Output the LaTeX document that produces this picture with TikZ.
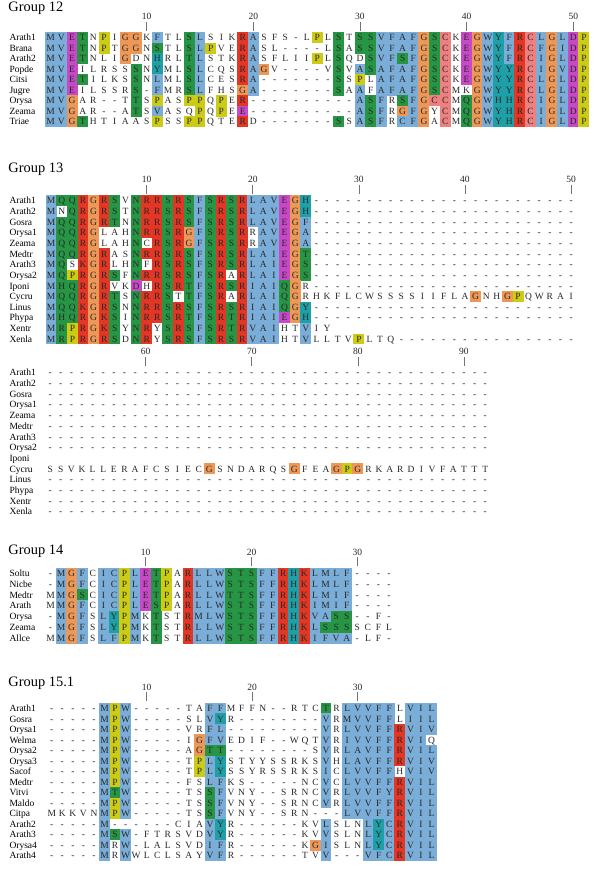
\documentclass[tikz,border=0pt]{standalone}
\usepackage{fontspec}
\setmainfont{Liberation Serif}
\newcount\alk
\definecolor{clb}{RGB}{122,174,216}
\definecolor{clr}{RGB}{228,54,36}
\definecolor{clg}{RGB}{38,150,68}
\definecolor{clm}{RGB}{200,72,200}
\definecolor{clo}{RGB}{238,152,88}
\definecolor{cly}{RGB}{204,204,20}
\definecolor{clc}{RGB}{30,160,168}
\definecolor{clp}{RGB}{238,128,128}
\definecolor{txt}{RGB}{40,40,40}
\tikzset{
  seqlet/.style={font=\fontsize{9.5}{10}\selectfont, inner sep=0pt, anchor=base, text=txt},
  seqname/.style={font=\fontsize{9.5}{10}\selectfont, inner sep=0pt, anchor=base west, text=black},
  ticklab/.style={font=\fontsize{9.5}{10}\selectfont, inner sep=0pt, anchor=base, text=txt},
  tickln/.style={draw=black!55, line width=0.6pt},
  grphead/.style={font=\fontsize{14.4}{15}\selectfont, inner sep=0pt, anchor=base west, text=black},
}
\newcommand\gxo{50}\newcommand\gcw{10.6}\newcommand\gyo{0}\newcommand\grh{10.6}
\newcommand\setgrp[4]{\renewcommand\gxo{#1}\renewcommand\gcw{#2}\renewcommand\gyo{#3}\renewcommand\grh{#4}}
\newcommand\alcell[2]{\fill[cl#1] ({\gxo+(\the\alk-1.5)*\gcw-0.15},{-(\gyo+(#2-1.5)*\grh)+0.15}) rectangle ({\gxo+(\the\alk-0.5)*\gcw+0.15},{-(\gyo+(#2-0.5)*\grh)-0.15});}
\newcommand\allet[2]{\node[seqlet] at ({\gxo+(\the\alk-1)*\gcw},{-(\gyo+(#2-1)*\grh)-3.2}) {#1};}
\newcommand\alname[2]{\node[seqname] at (9.3,{-(\gyo+(#2-1)*\grh)-3.2}) {#1};}
\newcommand\altick[2]{\draw[tickln] ({\gxo+(#1-1)*\gcw},{-(\gyo-16)}) -- ({\gxo+(#1-1)*\gcw},{-(\gyo-7)});
  \node[ticklab] at ({\gxo+(#1-1)*\gcw},{-(\gyo-21.4)-3.2}) {#2};}
\ExplSyntaxOn
\NewDocumentCommand \alrow { m m m m }
  {
    \global\alk=0\relax
    \tl_map_inline:nn {#4}
      {
        \global\advance\alk by 1\relax
        \str_if_eq:nnF {##1} {.} { \alcell {##1} {#1} }
      }
    \global\alk=0\relax
    \tl_map_inline:nn {#3}
      {
        \global\advance\alk by 1\relax
        \allet {##1} {#1}
      }
    \alname {#2} {#1}
  }
\ExplSyntaxOff
\begin{document}
\begin{tikzpicture}[x=1pt,y=1pt]
\fill[white] (0,0) rectangle (600,-869);
\useasboundingbox (0,0) rectangle (600,-869);
% ---------------- Group 12
\node[grphead] (h12) at (8.3,-12) {Group 12};
\setgrp{50.7}{10.665}{37.7}{10.5}
\altick{10}{10}\altick{20}{20}\altick{30}{30}\altick{40}{40}\altick{50}{50}
\alrow{1}{Arath1}{MVETNPIGGKFTLSLSIKRASFS-LPLSTSSVFAFGSCKEGWYFRCLGLDP}{bbmg.y.oo.b..gb...rb.....y.g.ggbbbbogp.mobcbrpbobmy}
\alrow{2}{Brana}{MVETNPTGGNSTLSLPVERASL----LSASSVFAFGSCKEGWYFRCFGIDP}{bbmg.y.oo.g..gby..rb.......g.ggbbbbogp.mobcbrpbobmy}
\alrow{3}{Arath2}{MVETNLIGDNHRLTLSTKRASFLIIPLSQDSVFSFGSCKEGWYFRCIGLDP}{bbmg...o..c..gb...rb.....y.g..gbbgbogp.mobcbrpbobmy}
\alrow{4}{Popde}{MVEILRSSSNYMLSLCQSRAGV----VSVASAFAFGSCKEGWYYRCIGVDP}{bbm.....g.c..gb...rbo......g.bgbbbbogp.mobccrpbobmy}
\alrow{5}{Citsi}{MVETILKSSNLMLSLCESRA-------SSPLAFAFGSCKEGWYYRCLGLDP}{bbmg....g.b..gb...rb.......g.y.bbbbogp.mobccrpbobmy}
\alrow{6}{Jugre}{MVEILSSRS-FMRSLFHSGA-------SAAFAFAFGSCMKGWYYRCLGLDP}{bbm.....g.b..gb...ob.......g.b.bbbbogp..obccrpbobmy}
\alrow{7}{Orysa}{MVGAR--TTSPASPPQPER----------ASFRSFGCCMQGWHHRCIGLDP}{bbo.....g.y..yy.y.r..........bgb.gbopp.gobccrpbobmy}
\alrow{8}{Zeama}{MVGAR--ATSVASQPQPEE----------ASFRGFGYCMQGWYHRCIGLDP}{bbo.....g.b...y.y.m..........bgb.obo.p.gobccrpbobmy}
\alrow{9}{Triae}{MVGTHTIAASPSSPPQTERD-------SSASFRCFGACMQGWYHRCIGLDP}{bbog......y..yy...r........g.bgb.bbo.p.gobccrpbobmy}
% ---------------- Group 13
\node[grphead] (h13) at (8.3,-172.5) {Group 13};
\setgrp{51.2}{10.61}{200.7}{10.64}
\altick{10}{10}\altick{20}{20}\altick{30}{30}\altick{40}{40}\altick{50}{50}
\alrow{1}{Arath1}{MQQRGRSVNRRSRSFSRSRLAVEGH-------------------------}{bggrorg.grrgrgbgrgrbbbmoc}
\alrow{2}{Arath2}{MNQRGRSTNRRSRSFSRSRLAVEGH-------------------------}{b.grorg.grrgrgbgrgrbbbmoc}
\alrow{3}{Gosra}{MQQRGRTNNRRSRSFSRSRLAVEGF-------------------------}{bggrorg.grrgrgbgrgrbbbmob}
\alrow{4}{Orysa1}{MQQRGLAHNRRSRGFSRSRRAVEGA-------------------------}{bggro...grrgrobgrgr.bbmob}
\alrow{5}{Zeama}{MQQRGLAHNCRSRGFSRSRRAVEGA-------------------------}{bggro...g.rgrobgrgr.bbmob}
\alrow{6}{Medtr}{MQQRGRASNRRSRSFSRSRLAIEGT-------------------------}{bggror..grrgrgbgrgrbbbmog}
\alrow{7}{Arath3}{MQSKGRLHNFRSRSFSRSRLAIEGS-------------------------}{bg.ror..g.rgrgbgrgrbbbmog}
\alrow{8}{Orysa2}{MQPRGRSFNRRSRSFSRARLAIEGS-------------------------}{bgyrorg.grrgrgbgr.rbbbmog}
\alrow{9}{Iponi}{MHQRGRVKDHRSRTFSRSRIAIQGR-------------------------}{bggror..m.rgrgbgrgrbbbgo.}
\alrow{10}{Cycru}{MQQRGRTSNRRSTTFSRARLAIQGRHKFLCWSSSSIIFLAGNHGPQWRAI}{bggrorg.grrg.gbgr.rbbbgo................o..oy}
\alrow{11}{Linus}{MQQKGRSNNRRSRSFSRSRIAIQGY-------------------------}{bggrorg.grrgrgbgrgrbbbgoc}
\alrow{12}{Phypa}{MHQRGKSINRRSRTFSRTRIAIEGH-------------------------}{bggrorg.grrgrgbgrgrbbbmoc}
\alrow{13}{Xentr}{MRPRGKSYNRYSRSFSRTRVAIHTVIY}{bgyrorg.gr.grgbgrgrbbb..b}
\alrow{14}{Xenla}{MRPRGRSDNRYSRSFSRSRVAIHTVLLTVPLTQ-----------------}{bgyrorg.gr.grgbgrgrbbb..b....y}
\setgrp{50.2}{10.61}{372.7}{10.69}
\altick{10}{60}\altick{20}{70}\altick{30}{80}\altick{40}{90}
\alrow{1}{Arath1}{------------------------------------------}{}
\alrow{2}{Arath2}{------------------------------------------}{}
\alrow{3}{Gosra}{------------------------------------------}{}
\alrow{4}{Orysa1}{------------------------------------------}{}
\alrow{5}{Zeama}{------------------------------------------}{}
\alrow{6}{Medtr}{------------------------------------------}{}
\alrow{7}{Arath3}{------------------------------------------}{}
\alrow{8}{Orysa2}{------------------------------------------}{}
\alrow{9}{Iponi}{}{}
\alrow{10}{Cycru}{SSVKLLERAFCSIECGSNDARQSGFEAGPGRKARDIVFATTT}{...............o.......o...oyo}
\alrow{11}{Linus}{------------------------------------------}{}
\alrow{12}{Phypa}{------------------------------------------}{}
\alrow{13}{Xentr}{------------------------------------------}{}
\alrow{14}{Xenla}{------------------------------------------}{}
% ---------------- Group 14
\node[grphead] (h14) at (8.3,-554) {Group 14};
\setgrp{50.5}{10.58}{573.3}{10.83}
\altick{10}{10}\altick{20}{20}\altick{30}{30}
\alrow{1}{Soltu}{-MGFCICPLETPARLLWSTSFFRHKLMLF----}{.bob.bbybmgy.rbbbgggbbrcrbbbb}
\alrow{2}{Nicbe}{-MGFCICPLETPARLLWSTSFFRHKLMLF----}{.bob.bbybmgy.rbbbgggbbrcrbbbb}
\alrow{3}{Medtr}{MMGSCICPLETPARLLWTTSFFRHKLMIF----}{.bog.bbybmgy.rbbbgggbbrcrbbbb}
\alrow{4}{Arath}{MMGFCICPLESPARLLWSTSFFRHKIMIF----}{.bob.bbybmgy.rbbbgggbbrcrbbbb}
\alrow{5}{Orysa}{-MGFSLYPMKTSTRMLWSTSFFRHKVASS--F-}{.bob.bcyb.g..rbbbgggbbrcrbbgg}
\alrow{6}{Zeama}{-MGFSLYPMKTSTRLLWSTSFFRHKLSSSSCFL}{.bob.bcyb.g..rbbbgggbbrcrbggg}
\alrow{7}{Allce}{MMGFSLFPMKTSTRLLWSTSFFRHKIFVA-LF-}{.bob.bbyb.g..rbbbgggbbrcrbbbb}
% ---------------- Group 15.1
\node[grphead] (h151) at (8.3,-686.5) {Group 15.1};
\setgrp{51.75}{10.55}{708.3}{10.53}
\altick{10}{10}\altick{20}{20}\altick{30}{30}
\alrow{1}{Arath1}{-----MPW-----TAFFMFFN--RTCTRLVVFFLVIL}{.....byb.......bb.........g.bbbbb.bbb}
\alrow{2}{Gosra}{-----MPW-----SLVYR--------VRMVVFFLIIL}{.....byb.......bc.........b.bbbbb.bbb}
\alrow{3}{Orysa1}{-----MPW-----VRFL---------VRLVVFFRVIV}{.....byb.......bb.........b.bbbbbrbbb}
\alrow{4}{Welma}{-----MPW-----IGFVEDIF--WQTVRIVVFFRVIQ}{.....byb......obb.........b.bbbbbrbb.}
\alrow{5}{Orysa2}{-----MPW-----AGTT--------SVRLAVFFRVIL}{.....byb......ogg.........b.bbbbbrbbb}
\alrow{6}{Orysa3}{-----MPW-----TPLYSTYYSSRKSVHLAVFFRVIV}{.....byb......ybc.........b.bbbbbrbbb}
\alrow{7}{Sacof}{-----MPW-----TPLYSSYRSSRKSICLVVFFHVIV}{.....byb......ybc.........b.bbbbb.bbb}
\alrow{8}{Medtr}{-----MPW-----FSLFKS-----NCVCLVVFFRVIL}{.....byb.......bb.........b.bbbbbrbbb}
\alrow{9}{Vitvi}{-----MTW-----TSSFVNY--SRNCVRLVVFYRVIL}{.....bgb.......gb.........b.bbbbbrbbb}
\alrow{10}{Maldo}{-----MPW-----TSSFVNY--SRNCVRLVVFFRVIL}{.....byb.......gb.........b.bbbbbrbbb}
\alrow{11}{Citpa}{MKKVNMPW-----TSSFVNY--SRN---LVVFFRVIL}{.....byb.......gb...........bbbbbrbbb}
\alrow{12}{Arath2}{-----M------CIAVYR------KVLSLNLYCRVIL}{.....b.........bc.........b...bcbrbbb}
\alrow{13}{Arath3}{-----MSW-FTRSVDVYR------KVVSLNLYCRVIL}{.....bgb.......bc.........b...bcbrbbb}
\alrow{14}{Orysa4}{-----MRW-LALSVDIFR------KGISLNLYCRVIL}{.....b.b.......bb........ob...bcbrbbb}
\alrow{15}{Arath4}{-----MRWWLCLSAYVFR------TVV---VFCRVIL}{.....b.b.......bb.........b...bbbrbbb}
\end{tikzpicture}
\end{document}
